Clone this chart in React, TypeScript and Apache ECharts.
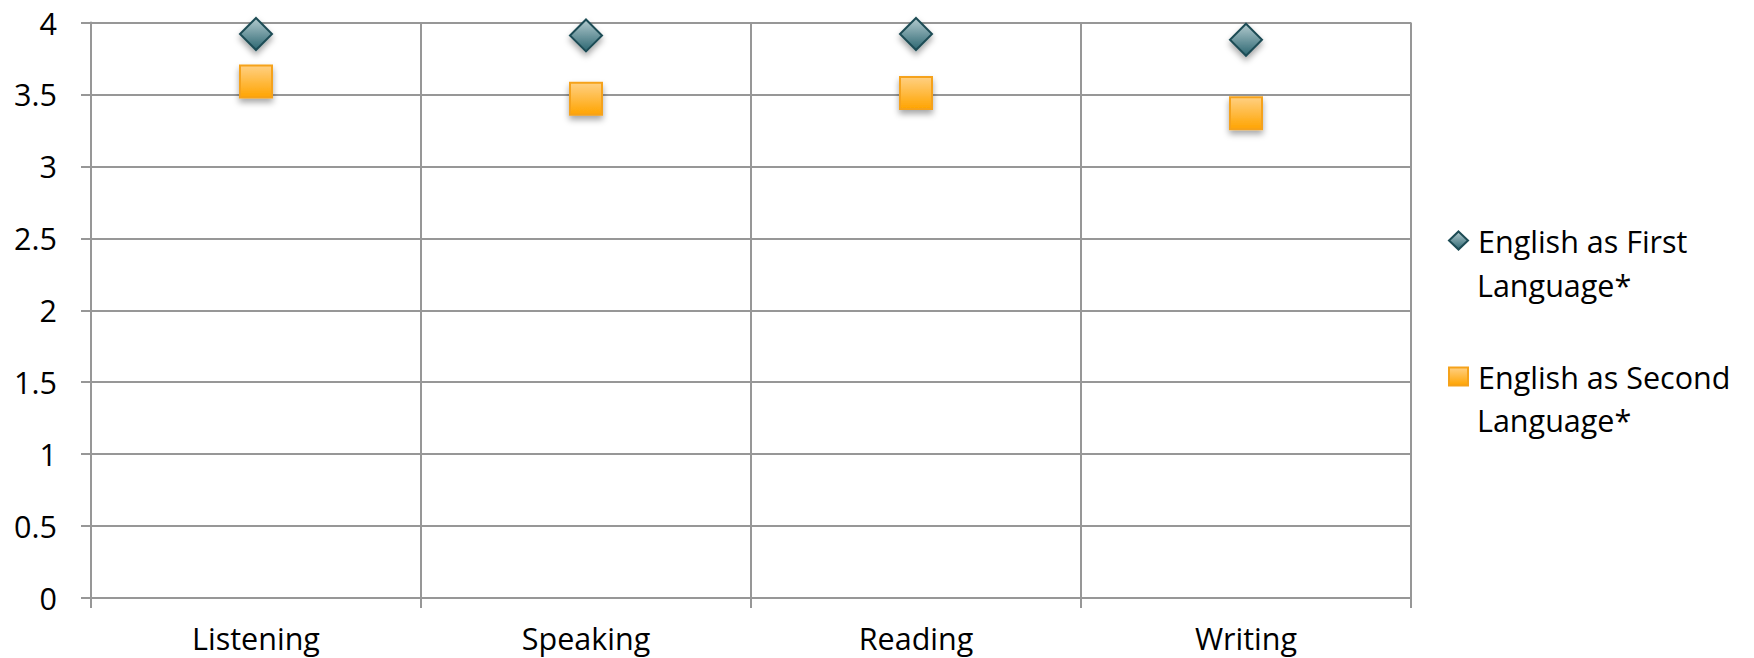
import React, { useEffect, useRef } from "react";
import * as echarts from "echarts";

const categories = ["Listening", "Speaking", "Reading", "Writing"];
const firstLanguage = [3.92, 3.91, 3.92, 3.88];
const secondLanguage = [3.59, 3.47, 3.51, 3.37];
const seriesNames = ["English as First Language*", "English as Second Language*"];

const FONT = "'Open Sans'";
const FS = 30.5;
const GRID_COLOR = "#979797";

export default function App() {
  const ref = useRef<HTMLDivElement>(null);
  useEffect(() => {
    document.body.style.margin = "0";
    const chart = echarts.init(ref.current!, null, { renderer: "svg" });
    const diamondFill = {
      type: "linear", x: 0, y: 0, x2: 0, y2: 1,
      colorStops: [
        { offset: 0, color: "#b3cbcf" },
        { offset: 1, color: "#2c6671" },
      ],
    };
    const squareFill = {
      type: "linear", x: 0, y: 0, x2: 0, y2: 1,
      colorStops: [
        { offset: 0, color: "#ffd083" },
        { offset: 1, color: "#ffa400" },
      ],
    };
    chart.setOption({
      animation: false,
      textStyle: { fontFamily: FONT },
      grid: { left: 91, right: 343, top: 22.5, bottom: 60, containLabel: false },
      legend: {
        orient: "vertical",
        left: 1448,
        top: 225,
        padding: 0,
        itemWidth: 19,
        itemHeight: 18,
        itemGap: 105,
        data: seriesNames,
        formatter: (name: string) => name.replace(" Language*", ""),
        textStyle: { fontFamily: FONT, fontSize: FS, color: "#000", lineHeight: 30, padding: [0, 0, 0, 5] },
        selectedMode: false,
      },
      graphic: [
        { type: "text", left: 1477, top: 269, style: { text: "Language*", font: `${FS}px ${FONT}`, fill: "#000" } },
        { type: "text", left: 1477, top: 404, style: { text: "Language*", font: `${FS}px ${FONT}`, fill: "#000" } },
      ],
      xAxis: {
        type: "category",
        data: categories,
        boundaryGap: true,
        axisLine: { show: true, lineStyle: { color: GRID_COLOR, width: 2 } },
        axisTick: { show: true, length: 10, lineStyle: { color: GRID_COLOR, width: 2 } },
        splitLine: { show: true, lineStyle: { color: GRID_COLOR, width: 2 } },
        axisLabel: { color: "#000", fontSize: FS, fontFamily: FONT, margin: 25, lineHeight: 30 },
      },
      yAxis: {
        type: "value",
        min: 0,
        max: 4,
        interval: 0.5,
        axisLine: { show: true, lineStyle: { color: GRID_COLOR, width: 2 } },
        axisTick: { show: true, length: 10, lineStyle: { color: GRID_COLOR, width: 2 } },
        splitLine: { show: true, lineStyle: { color: GRID_COLOR, width: 2 } },
        axisLabel: { color: "#000", fontSize: FS, fontFamily: FONT, margin: 34 },
      },
      series: [
        {
          name: seriesNames[0],
          type: "scatter",
          data: firstLanguage,
          symbol: "diamond",
          symbolSize: [32, 32],
          itemStyle: {
            color: diamondFill,
            borderColor: "#1d4c55",
            borderWidth: 2,
            shadowBlur: 6,
            shadowOffsetY: 4,
            shadowColor: "rgba(0,0,0,0.35)",
            opacity: 1,
          },
          z: 3,
        },
        {
          name: seriesNames[1],
          type: "scatter",
          data: secondLanguage,
          symbol: "rect",
          symbolSize: [32, 32],
          itemStyle: {
            color: squareFill,
            borderColor: "#f5a21a",
            borderWidth: 2,
            shadowBlur: 6,
            shadowOffsetY: 4,
            shadowColor: "rgba(0,0,0,0.35)",
            opacity: 1,
          },
          z: 3,
        },
      ],
    });
    return () => chart.dispose();
  }, []);
  return <div ref={ref} style={{ width: 1754, height: 658 }} />;
}
